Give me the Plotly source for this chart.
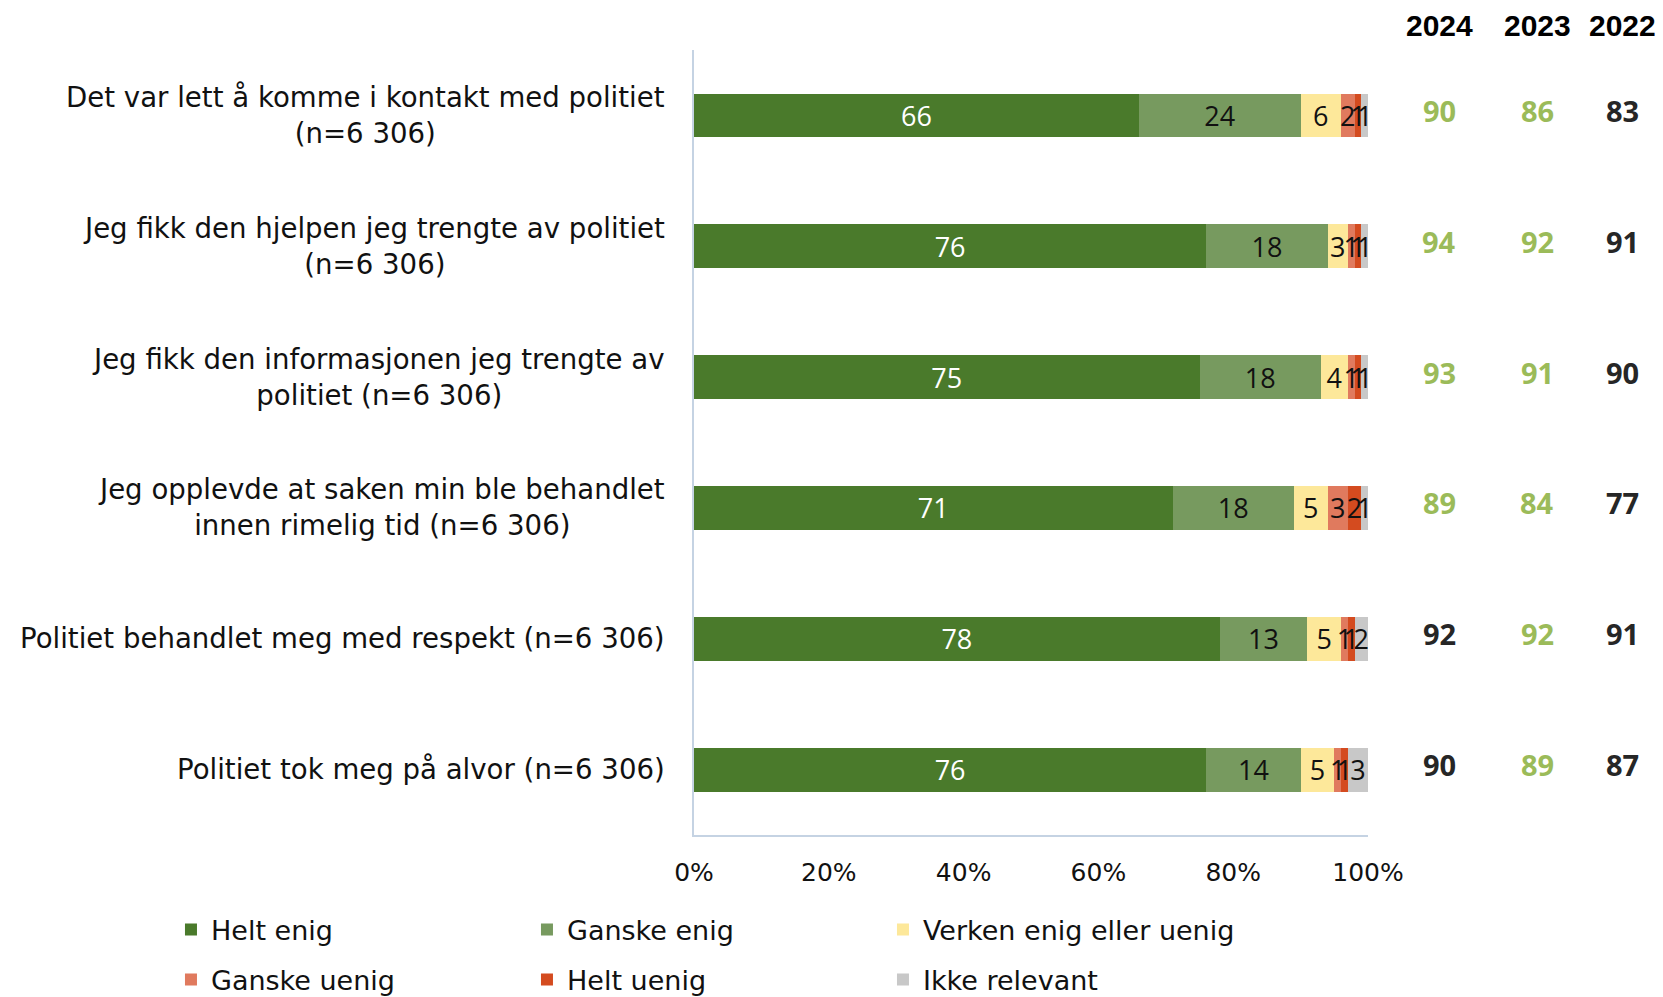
import plotly.graph_objects as go

# Survey statements (top to bottom)
statements = [
    "Det var lett å komme i kontakt med politiet<br>(n=6 306)",
    "Jeg fikk den hjelpen jeg trengte av politiet<br>(n=6 306)",
    "Jeg fikk den informasjonen jeg trengte av<br>politiet (n=6 306)",
    "Jeg opplevde at saken min ble behandlet<br>innen rimelig tid (n=6 306)",
    "Politiet behandlet meg med respekt (n=6 306)",
    "Politiet tok meg på alvor (n=6 306)",
]

# Response shares in percent
helt_enig = [66, 76, 75, 71, 78, 76]
ganske_enig = [24, 18, 18, 18, 13, 14]
verken = [6, 3, 4, 5, 5, 5]
ganske_uenig = [2, 1, 1, 3, 1, 1]
helt_uenig = [1, 1, 1, 2, 1, 1]
ikke_relevant = [1, 1, 1, 1, 2, 3]

series_names = ["Helt enig", "Ganske enig", "Verken enig eller uenig",
                "Ganske uenig", "Helt uenig", "Ikke relevant"]
series_values = [helt_enig, ganske_enig, verken, ganske_uenig, helt_uenig, ikke_relevant]
series_colors = ["#4A7A2B", "#779A5F", "#FDE89A", "#E07A5E", "#D44B1F", "#C8C8C8"]
label_colors = ["#FFFFFF", "#111111", "#111111", "#111111", "#111111", "#111111"]
# first three series in the upper legend row, the rest in the lower row
legend_rows = ["legend", "legend", "legend", "legend2", "legend2", "legend2"]

# Share agreeing (helt + ganske enig) by year
years = ["2024", "2023", "2022"]
agree_2024 = [90, 94, 93, 89, 92, 90]
agree_2023 = [86, 92, 91, 84, 92, 89]
agree_2022 = [83, 91, 90, 77, 91, 87]
highlight_2024 = [True, True, True, True, False, False]
highlight_2023 = [True, True, True, True, True, True]
highlight_2022 = [False, False, False, False, False, False]

ticks = [0, 20, 40, 60, 80, 100]

FONT = "DejaVu Sans"
NUM_FONT = "Open Sans"
GREEN_TXT = "#9BBB59"
DARK_TXT = "#262626"

fig = go.Figure()
for name, vals, col, lcol, lg in zip(series_names, series_values, series_colors,
                                     label_colors, legend_rows):
    fig.add_trace(go.Bar(
        y=statements, x=vals, name=name, orientation="h", legend=lg,
        marker=dict(color=col, line=dict(width=0)),
        text=[str(v) for v in vals], textposition="inside", textangle=0,
        insidetextanchor="middle", constraintext="none",
        textfont=dict(family=NUM_FONT, size=27, color=lcol),
        hoverinfo="skip",
    ))

annotations = []
# Statement labels, lines centered within each block
for s in statements:
    annotations.append(dict(
        x=0, xref="paper", xshift=-27, y=s, yref="y",
        text=s, showarrow=False, xanchor="right", yanchor="middle",
        align="center", font=dict(family=FONT, size=27.6, color="#111111"),
    ))

col_x = [1.1055, 1.2508, 1.377]
for yr, cx in zip(years, col_x):
    annotations.append(dict(
        x=cx, xref="paper", y=1 + (50 - 25) / 785, yref="paper", text=f"<b>{yr}</b>",
        showarrow=False, xanchor="center", yanchor="middle",
        font=dict(family="Liberation Sans", size=30, color="#000000"),
    ))

for vals, flags, cx in zip([agree_2024, agree_2023, agree_2022],
                           [highlight_2024, highlight_2023, highlight_2022], col_x):
    for s, v, hl in zip(statements, vals, flags):
        annotations.append(dict(
            x=cx, xref="paper", y=s, yref="y", yshift=5, text=f"<b>{v}</b>",
            showarrow=False, xanchor="center", yanchor="middle",
            font=dict(family=NUM_FONT, size=29, color=GREEN_TXT if hl else DARK_TXT),
        ))

legend_style = dict(
    orientation="h", x=-0.776, xanchor="left", yanchor="middle",
    entrywidth=311, entrywidthmode="pixels", traceorder="normal",
    font=dict(family=FONT, size=27, color="#111111"),
    bgcolor="rgba(0,0,0,0)",
)

fig.update_layout(
    width=1663, height=997,
    margin=dict(l=694, r=295, t=50, b=162, pad=0, autoexpand=False),
    barmode="stack", bargap=0.665,
    plot_bgcolor="white", paper_bgcolor="white",
    font=dict(family=FONT, size=27, color="#111111"),
    showlegend=True,
    legend=dict(legend_style, y=-(930 - 835) / 785),
    legend2=dict(legend_style, y=-(980 - 835) / 785),
    annotations=annotations,
)
fig.update_xaxes(
    range=[0, 100], tickvals=ticks, ticktext=[f"{t}%" for t in ticks],
    showgrid=False, zeroline=False, showline=True, linecolor="#C5D3E3", linewidth=2,
    ticks="", ticklabelstandoff=14, tickfont=dict(family=FONT, size=25, color="#111111"),
)
fig.update_yaxes(
    autorange="reversed", showticklabels=False, showgrid=False, zeroline=False,
    showline=True, linecolor="#C5D3E3", linewidth=2, ticks="",
)

fig.write_html("out.html")
